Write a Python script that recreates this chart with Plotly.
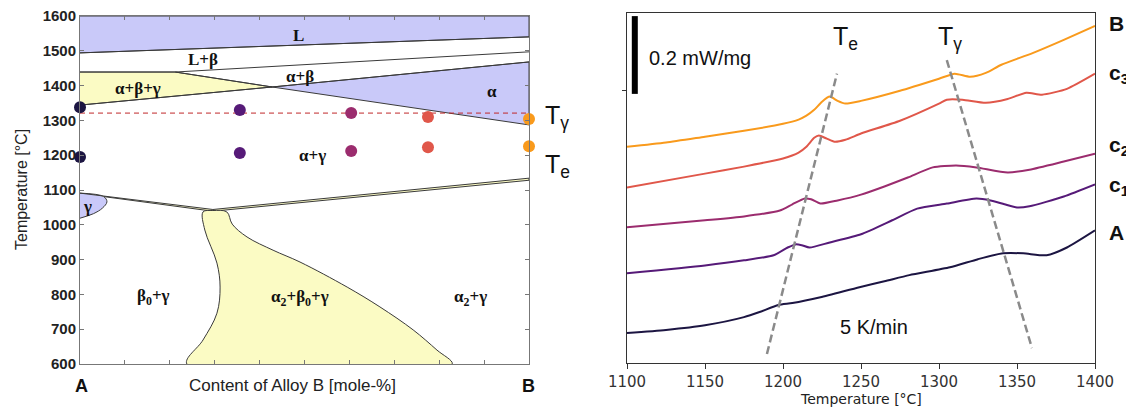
import plotly.graph_objects as go

# ================= Left panel: phase diagram (composition mole-% B, temperature degC) =================
comp_ticks = [0, 10, 20, 30, 40, 50, 60, 70, 80, 90, 100]
temp_ticks = [600, 700, 800, 900, 1000, 1100, 1200, 1300, 1400, 1500, 1600]

liq_c = [0, 100];            liq_T = [1494, 1540]          # L / L+beta
lb_c = [0, 21.2, 100];       lb_T = [1439, 1439, 1497]     # L+beta lower boundary
a_up_c = [0, 42.8, 100];     a_up_T = [1344, 1396, 1468]   # alpha upper boundary
a_lo_c = [21.2, 42.8, 100];  a_lo_T = [1439, 1396, 1287]   # alpha lower boundary
gam_c = [0, 5.3, 6.0, 5.0, 3.0, 0]
gam_T = [1091, 1081, 1066, 1048, 1032, 1019]
eu_up_c = [0, 29.6, 100];    eu_up_T = [1091, 1044, 1134]
eu_lo_c = [5.3, 29.6, 100];  eu_lo_T = [1081, 1039, 1128]
tri_left_c = [27.4, 27.8, 30.5, 31.2, 30.5, 27.4, 23.8]
tri_left_T = [1037, 985, 890, 821, 746, 669, 600]
tri_right_c = [32.7, 33.9, 37.2, 43.0, 49.0, 59.5, 66.8, 74.2, 79.5, 82.9]
tri_right_T = [1037, 1002, 965, 927, 893, 821, 764, 698, 640, 600]
tri_top_c = 29.6; tri_top_T = 1041
t_gamma_ref = 1321

sample_names = ["A", "c<sub>1</sub>", "c<sub>2</sub>", "c<sub>3</sub>", "B"]
sample_c = [0, 35.6, 60.4, 77.5, 100]
sample_Tg = [1338, 1330, 1321, 1310, 1304]
sample_Te = [1195, 1206, 1212, 1223, 1226]
sample_colors = ["#1c1542", "#561a78", "#9b2c6e", "#e0574a", "#f99a1c"]

phase_labels = ["L", "L+β", "α+β+γ", "α+β", "α", "α+γ", "γ",
                "β<sub>0</sub>+γ", "α<sub>2</sub>+β<sub>0</sub>+γ", "α<sub>2</sub>+γ"]
phase_c = [48.6, 27.4, 12.9, 49.0, 91.8, 51.7, 1.7, 16.3, 49.0, 86.9]
phase_T = [1543, 1474, 1393, 1425, 1382, 1200, 1054, 792, 790, 790]

# ================= Right panel: DSC curves (heat flow, stacked, mW/mg) =================
T_B = [1100, 1125, 1150, 1175, 1200, 1210, 1215, 1220, 1225, 1230, 1235, 1240, 1250,
       1275, 1300, 1310, 1320, 1330, 1340, 1360, 1380, 1400]
hf_B = [0.556, 0.567, 0.582, 0.597, 0.615, 0.626, 0.636, 0.651, 0.672, 0.685, 0.674, 0.667, 0.674,
        0.700, 0.731, 0.744, 0.736, 0.746, 0.767, 0.797, 0.831, 0.867]
T_c3 = [1100, 1150, 1175, 1200, 1210, 1215, 1220, 1223, 1228, 1233, 1240, 1250, 1275, 1300,
        1305, 1315, 1330, 1344, 1356, 1366, 1382, 1400]
hf_c3 = [0.451, 0.487, 0.505, 0.526, 0.541, 0.556, 0.579, 0.585, 0.577, 0.569, 0.574, 0.590, 0.623, 0.667,
         0.677, 0.677, 0.669, 0.679, 0.695, 0.690, 0.705, 0.744]
T_c2 = [1100, 1150, 1175, 1198, 1206, 1214, 1218, 1224, 1235, 1250, 1265, 1280, 1296, 1311,
        1324, 1344, 1358, 1380, 1400]
hf_c2 = [0.349, 0.367, 0.377, 0.392, 0.408, 0.423, 0.421, 0.410, 0.418, 0.433, 0.454, 0.477, 0.503, 0.508,
         0.503, 0.490, 0.497, 0.518, 0.538]
T_c1 = [1100, 1150, 1175, 1194, 1203, 1208, 1212, 1217, 1230, 1250, 1270, 1286, 1305, 1324,
        1333, 1342, 1350, 1358, 1380, 1400]
hf_c1 = [0.231, 0.251, 0.264, 0.277, 0.297, 0.305, 0.303, 0.297, 0.310, 0.331, 0.367, 0.397, 0.410, 0.423,
         0.418, 0.408, 0.400, 0.403, 0.428, 0.459]
T_A = [1100, 1125, 1150, 1175, 1185, 1197, 1206, 1224, 1249, 1265, 1281, 1307, 1325, 1341,
       1354, 1369, 1382, 1400]
hf_A = [0.077, 0.085, 0.097, 0.118, 0.131, 0.149, 0.154, 0.169, 0.195, 0.210, 0.226, 0.246, 0.267, 0.282,
        0.282, 0.277, 0.297, 0.341]

te_line_T = [1189.7, 1234.6]; te_line_hf = [0.023, 0.744]
tg_line_T = [1305.0, 1359.6]; tg_line_hf = [0.779, 0.038]
dsc_ticks = [1100, 1150, 1200, 1250, 1300, 1350, 1400]
scalebar_T = 1105.0; scalebar_bottom = 0.692; scalebar_len = 0.2

# ---------------------------------------------------------------------------
BLUE = "#c9c9f9"
YELLOW = "#fbfbc4"
EDGE = "#3a3a3a"
W, H = 1126, 408

def fx(px):                  # page pixel -> paper x
    return px / W

def fy(py):                  # page pixel -> paper y
    return 1 - py / H

fig = go.Figure()

def poly(xs, ys, color, shape="linear"):
    fig.add_trace(go.Scatter(x=xs, y=ys, mode="lines", fill="toself", fillcolor=color,
                             line=dict(color=EDGE, width=1, shape=shape),
                             xaxis="x", yaxis="y", hoverinfo="skip"))

def line(xs, ys, shape="linear"):
    fig.add_trace(go.Scatter(x=xs, y=ys, mode="lines", line=dict(color=EDGE, width=1, shape=shape),
                             xaxis="x", yaxis="y", hoverinfo="skip"))

poly(liq_c + [100, 0], liq_T + [1600, 1600], BLUE)
poly(lb_c[:2] + [a_lo_c[1], a_up_c[0]], lb_T[:2] + [a_lo_T[1], a_up_T[0]], YELLOW)
poly([a_up_c[1], a_up_c[2], a_lo_c[2]], [a_up_T[1], a_up_T[2], a_lo_T[2]], BLUE)
poly(gam_c, gam_T, BLUE, "spline")
poly(eu_up_c + eu_lo_c[::-1], eu_up_T + eu_lo_T[::-1], YELLOW)
poly([tri_top_c] + tri_left_c + tri_right_c[::-1] + [tri_top_c],
     [tri_top_T] + tri_left_T + tri_right_T[::-1] + [tri_top_T], YELLOW, "spline")

line(liq_c, liq_T)
line(lb_c, lb_T)
line(a_up_c, a_up_T)
line(a_lo_c, a_lo_T)

fig.add_trace(go.Scatter(x=[0, 100], y=[t_gamma_ref, t_gamma_ref], mode="lines",
                         line=dict(color="#c0282a", width=1, dash="5px,4px"),
                         xaxis="x", yaxis="y", hoverinfo="skip"))

for c, tg, te, col in zip(sample_c, sample_Tg, sample_Te, sample_colors):
    fig.add_trace(go.Scatter(x=[c, c], y=[tg, te], mode="markers",
                             marker=dict(color=col, size=12, line=dict(width=0)),
                             cliponaxis=False, xaxis="x", yaxis="y", hoverinfo="skip"))

# ---------- right panel ----------
for Ts, hf, col in [(T_A, hf_A, sample_colors[0]), (T_c1, hf_c1, sample_colors[1]),
                    (T_c2, hf_c2, sample_colors[2]), (T_c3, hf_c3, sample_colors[3]),
                    (T_B, hf_B, sample_colors[4])]:
    fig.add_trace(go.Scatter(x=Ts, y=hf, mode="lines", line=dict(color=col, width=2, shape="spline",
                                                                 smoothing=0.6),
                             xaxis="x2", yaxis="y2", hoverinfo="skip"))

for xs, ys in [(te_line_T, te_line_hf), (tg_line_T, tg_line_hf)]:
    fig.add_trace(go.Scatter(x=xs, y=ys, mode="lines",
                             line=dict(color="#8a8a8a", width=2.5, dash="8px,4px"),
                             xaxis="x2", yaxis="y2", hoverinfo="skip"))

fig.add_trace(go.Scatter(x=[scalebar_T, scalebar_T], y=[scalebar_bottom, scalebar_bottom + scalebar_len],
                         mode="lines", line=dict(color="black", width=6),
                         xaxis="x2", yaxis="y2", hoverinfo="skip"))

annotations = []
for txt, c, t in zip(phase_labels, phase_c, phase_T):
    annotations.append(dict(x=c, y=t, xref="x", yref="y", text="<b>" + txt + "</b>", showarrow=False,
                            font=dict(family="Liberation Serif", size=17, color="#111")))

def pa(text, px, py, size, family="Liberation Sans", xanchor="center", yanchor="middle",
       color="#111", angle=0):
    annotations.append(dict(x=fx(px), y=fy(py), xref="paper", yref="paper", text=text,
                            showarrow=False, xanchor=xanchor, yanchor=yanchor, textangle=angle,
                            font=dict(family=family, size=size, color=color)))

pa("<b>A</b>", 81, 386, 18)
pa("<b>B</b>", 528, 386, 18)
pa("Content of Alloy B [mole-%]", 292, 385, 17, color="#222")
pa("Temperature [°C]", 21, 190, 16, color="#222", angle=-90)
pa("T<sub>γ</sub>", 543, 117, 25, xanchor="left")
pa("T<sub>e</sub>", 543, 166, 25, xanchor="left")

annotations.append(dict(x=1112.5, y=0.785, xref="x2", yref="y2", text="0.2 mW/mg", showarrow=False,
                        xanchor="left", font=dict(family="Liberation Sans", size=20, color="#111")))
annotations.append(dict(x=1231.0, y=0.836, xref="x2", yref="y2", text="T<sub>e</sub>", showarrow=False,
                        xanchor="left", font=dict(family="Liberation Sans", size=25, color="#111")))
annotations.append(dict(x=1298.0, y=0.836, xref="x2", yref="y2", text="T<sub>γ</sub>", showarrow=False,
                        xanchor="left", font=dict(family="Liberation Sans", size=25, color="#111")))
annotations.append(dict(x=1235.0, y=0.092, xref="x2", yref="y2", text="5 K/min", showarrow=False,
                        xanchor="left", font=dict(family="Liberation Sans", size=20, color="#111")))
pa("Temperature [°C]", 861, 399, 14, family="DejaVu Sans", color="#222")
for name, py in zip(["B", "c<sub>3</sub>", "c<sub>2</sub>", "c<sub>1</sub>", "A"], [23, 74, 146, 186, 232]):
    pa("<b>" + name + "</b>", 1107, py, 21, xanchor="left")

fig.update_layout(
    width=W, height=H, margin=dict(l=0, r=0, t=0, b=0, autoexpand=False), autosize=False,
    paper_bgcolor="white", plot_bgcolor="white", showlegend=False, hovermode=False,
    xaxis=dict(domain=[fx(80), fx(529)], range=[0, 100], tickvals=comp_ticks, showticklabels=False,
               ticks="inside", ticklen=4, tickcolor="#777", showline=True, linecolor="#777",
               linewidth=1, mirror="ticks", showgrid=False, zeroline=False, anchor="y",
               automargin=False),
    yaxis=dict(domain=[fy(364), fy(16)], range=[600, 1600], tickvals=temp_ticks,
               ticks="inside", ticklen=4, tickcolor="#777", showline=True, linecolor="#777",
               linewidth=1, mirror="ticks", showgrid=False, zeroline=False, anchor="x",
               tickfont=dict(family="Liberation Sans", size=15, color="#222", weight="bold"),
               ticklabeloverflow="allow", automargin=False),
    xaxis2=dict(domain=[fx(627), fx(1095)], range=[1100, 1400], tickvals=dsc_ticks,
                ticks="outside", ticklen=5, tickcolor="#333", showline=True, linecolor="#333",
                linewidth=1, mirror=True, showgrid=False, zeroline=False, anchor="y2",
                tickfont=dict(family="DejaVu Sans", size=15, color="#333"),
                ticklabeloverflow="allow", automargin=False),
    yaxis2=dict(domain=[fy(363), fy(13)], range=[0, 0.9], tickvals=[0.7], showticklabels=False,
                ticks="outside", ticklen=4, tickcolor="#333", showline=True, linecolor="#333",
                linewidth=1, mirror=True, showgrid=False, zeroline=False, anchor="x2",
                automargin=False),
    annotations=annotations,
)

fig.write_html("out.html", config={"displayModeBar": False, "staticPlot": True},
               post_script="document.body.style.margin='0';document.body.style.overflow='hidden';")
